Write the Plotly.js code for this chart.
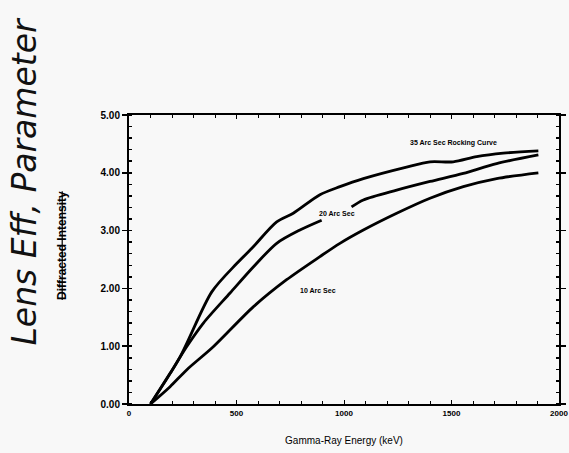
<!DOCTYPE html>
<html>
<head>
<meta charset="utf-8">
<script src="https://cdn.plot.ly/plotly-3.0.1.min.js"></script>
<style>html,body{margin:0;padding:0;background:#f8f8f8;}</style>
</head>
<body>
<div id="chart" style="width:569px;height:453px;"></div>
<script>
// Gamma-ray energy (keV) and lens efficiency parameter for each rocking-curve width
const energy35 = [100, 237, 385, 501, 578, 687, 764, 888, 981, 1090, 1291, 1400, 1508, 1617, 1741, 1904];
const value35  = [0.00, 0.81, 1.94, 2.43, 2.72, 3.15, 3.30, 3.62, 3.76, 3.90, 4.10, 4.19, 4.19, 4.28, 4.34, 4.38];

const energy20 = [100, 191, 268, 346, 470, 578, 687, 795, 896, 960, 1035, 1090, 1245, 1400, 1555, 1710, 1904];
const value20  = [0.00, 0.53, 0.99, 1.40, 1.92, 2.37, 2.78, 3.01, 3.18, null, 3.41, 3.53, 3.70, 3.85, 3.99, 4.16, 4.31];

const energy10 = [100, 191, 268, 392, 578, 733, 888, 981, 1090, 1245, 1400, 1555, 1710, 1904];
const value10  = [0.00, 0.30, 0.59, 0.99, 1.68, 2.15, 2.55, 2.78, 3.01, 3.30, 3.56, 3.76, 3.90, 4.00];

const seriesNames = ["35 Arc Sec Rocking Curve", "20 Arc Sec", "10 Arc Sec"];
const labelX = [1507, 967, 879];
const labelY = [4.52, 3.30, 1.97];

const xTicks = [0, 500, 1000, 1500, 2000];
const yTicks = [0, 1, 2, 3, 4, 5];

const lineStyle = {color: '#000', width: 2.8, shape: 'spline', smoothing: 0.8};

const traces = [
  {x: energy35, y: value35, name: seriesNames[0]},
  {x: energy20, y: value20, name: seriesNames[1]},
  {x: energy10, y: value10, name: seriesNames[2]}
].map(t => Object.assign(t, {type: 'scatter', mode: 'lines', line: lineStyle, connectgaps: false, hoverinfo: 'skip'}));

const annotations = seriesNames.map((n, i) => ({
  x: labelX[i], y: labelY[i], xref: 'x', yref: 'y', text: '<b>' + n + '</b>',
  showarrow: false, font: {family: 'Liberation Sans, Arial', size: 7, color: '#000'}
}));

annotations.push({
  xref: 'paper', yref: 'paper', x: -0.156, y: 0.55, xanchor: 'center', yanchor: 'middle',
  text: '<span style="text-decoration:line-through"><b>Diffracted Intensity</b></span>',
  textangle: -90, showarrow: false,
  font: {family: 'Liberation Sans Narrow, Liberation Sans, Arial', size: 12, color: '#000'}
});
annotations.push({
  xref: 'paper', yref: 'paper', x: -0.244, y: 0.77, xanchor: 'center', yanchor: 'middle',
  text: 'Lens Eff, Parameter',
  textangle: -90, showarrow: false,
  font: {family: 'DejaVu Sans', size: 33, color: '#111', style: 'italic', weight: 300}
});

const layout = {
  width: 569, height: 453,
  margin: {l: 129, r: 10, t: 115, b: 49},
  paper_bgcolor: '#f8f8f8', plot_bgcolor: '#f8f8f8',
  showlegend: false,
  xaxis: {
    range: [0, 2000], tickvals: xTicks, ticktext: xTicks.map(String),
    showgrid: false, zeroline: false, showline: true, linecolor: '#000', linewidth: 2,
    mirror: 'ticks', ticks: 'inside', ticklen: 4, tickcolor: '#000', tickwidth: 1,
    minor: {dtick: 100, ticks: 'inside', ticklen: 3, tickcolor: '#000'},
    tickfont: {family: 'Liberation Sans, Arial', size: 8, color: '#000', weight: 'bold'},
    title: {text: 'Gamma-Ray Energy (keV)', standoff: 20,
      font: {family: 'Liberation Sans, Arial', size: 10, color: '#000'}}
  },
  yaxis: {
    range: [0, 5], tickvals: yTicks, tickformat: '.2f',
    showgrid: false, zeroline: false, showline: true, linecolor: '#000', linewidth: 2,
    mirror: 'ticks', ticks: 'outside', ticklen: 5, tickcolor: '#000', tickwidth: 1.5,
    minor: {dtick: 0.2, ticks: 'inside', ticklen: 3, tickcolor: '#000'},
    tickfont: {family: 'Liberation Sans, Arial', size: 10, color: '#000', weight: 'bold'}
  },
  annotations: annotations
};

Plotly.newPlot('chart', traces, layout, {staticPlot: true, displayModeBar: false});
</script>
</body>
</html>
